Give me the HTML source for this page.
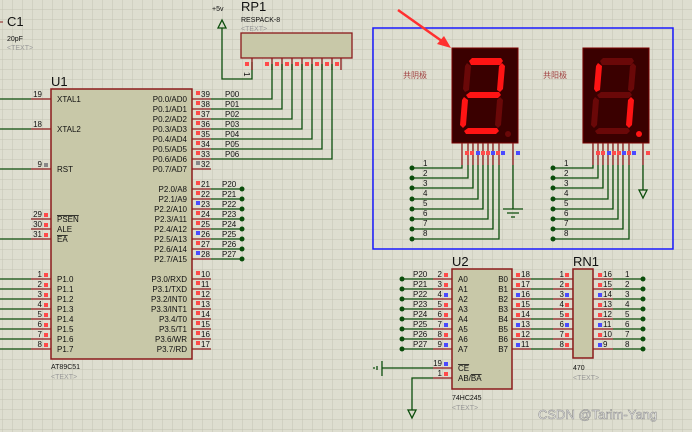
<!DOCTYPE html>
<html><head><meta charset="utf-8"><style>
html,body{margin:0;padding:0;background:#deded0;}
svg{display:block}
text{font-family:"Liberation Sans","Noto Sans CJK SC",sans-serif;font-size:8px;fill:#111}
.g{stroke:#0b4d0b;stroke-width:1.3;fill:none}
.p{stroke:#8b1a1a;stroke-width:1.3;fill:none}
.r{fill:#ff4a4a}.b{fill:#4a4aff}
.t{fill:#999}
.on{fill:#ff1414}.off{fill:#6a0808}
</style></head><body>
<svg width="692" height="432" viewBox="0 0 692 432" xmlns="http://www.w3.org/2000/svg">
<defs><pattern id="gr" width="10" height="10" patternUnits="userSpaceOnUse" x="2" y="9"><path d="M0 0H10M0 0V10" stroke="#c4c4b4" stroke-width="1" fill="none"/></pattern></defs>
<rect width="692" height="432" fill="#deded0"/>
<rect width="692" height="432" fill="url(#gr)"/>

<!-- C1 -->
<path d="M0 22H3" stroke="#8b1a1a"/>
<text x="7" y="26" style="font-size:13px">C1</text>
<text x="7" y="41" style="font-size:7px">20pF</text>
<text x="7" y="50" class="t" style="font-size:7px">&lt;TEXT&gt;</text>

<!-- +5v and RP1 -->
<text x="212" y="11" style="font-size:7px">+5v</text>
<path d="M222 20L218 28H226Z" class="g"/>
<path d="M222 28V79H252V62" class="g"/>
<text x="241" y="11" style="font-size:13px">RP1</text>
<text x="241" y="22" style="font-size:7px">RESPACK-8</text>
<text x="241" y="31" class="t" style="font-size:7px">&lt;TEXT&gt;</text>
<rect x="241" y="33" width="111" height="25" fill="#c8c8a8" stroke="#8b1a1a" stroke-width="1.3"/>
<path d="M252 58V70M272 58V70M282 58V70M292 58V70M302 58V70M312 58V70M322 58V70M332 58V70M341 58V70" class="p"/>
<g class="r"><rect x="245" y="62" width="4" height="4"/><rect x="265" y="62" width="4" height="4"/><rect x="275" y="62" width="4" height="4"/><rect x="285" y="62" width="4" height="4"/><rect x="295" y="62" width="4" height="4"/><rect x="305" y="62" width="4" height="4"/><rect x="315" y="62" width="4" height="4"/><rect x="325" y="62" width="4" height="4"/><rect x="335" y="62" width="4" height="4"/></g>
<g style="font-size:6px"><text x="247" y="75" transform="rotate(90 247 72)">1</text></g>

<!-- U1 -->
<text x="51" y="86" style="font-size:13px">U1</text>
<rect x="51" y="89" width="141" height="270" fill="#c8c8a8" stroke="#8b1a1a" stroke-width="1.5"/>
<text x="51" y="369" style="font-size:7px">AT89C51</text>
<text x="51" y="379" class="t" style="font-size:7px">&lt;TEXT&gt;</text>
<!-- left pins -->
<path d="M31 99H51M31 129H51M31 169H51M31 219H51M31 229H51M31 239H51M31 279H51M31 289H51M31 299H51M31 309H51M31 319H51M31 329H51M31 339H51M31 349H51" class="p"/>
<path d="M0 99H31M0 129H31M0 169H31M0 239H31M0 279H31M0 289H31M0 299H31M0 309H31M0 319H31M0 329H31M0 339H31M0 349H31" class="g"/>
<g text-anchor="end">
<text x="42" y="97">19</text><text x="42" y="127">18</text><text x="42" y="167">9</text><text x="42" y="217">29</text><text x="42" y="227">30</text><text x="42" y="237">31</text>
<text x="42" y="277">1</text><text x="42" y="287">2</text><text x="42" y="297">3</text><text x="42" y="307">4</text><text x="42" y="317">5</text><text x="42" y="327">6</text><text x="42" y="337">7</text><text x="42" y="347">8</text>
</g>
<g class="r"><rect x="44" y="213" width="4" height="4"/><rect x="44" y="223" width="4" height="4"/><rect x="44" y="233" width="4" height="4"/><rect x="44" y="273" width="4" height="4"/><rect x="44" y="283" width="4" height="4"/><rect x="44" y="293" width="4" height="4"/><rect x="44" y="303" width="4" height="4"/><rect x="44" y="313" width="4" height="4"/><rect x="44" y="323" width="4" height="4"/><rect x="44" y="333" width="4" height="4"/><rect x="44" y="343" width="4" height="4"/></g>
<rect x="44" y="163" width="4" height="4" fill="#888"/>
<g>
<text x="57" y="102">XTAL1</text><text x="57" y="132">XTAL2</text><text x="57" y="172">RST</text>
<text x="57" y="222" text-decoration="overline">PSEN</text><text x="57" y="232">ALE</text><text x="57" y="242" text-decoration="overline">EA</text>
<text x="57" y="282">P1.0</text><text x="57" y="292">P1.1</text><text x="57" y="302">P1.2</text><text x="57" y="312">P1.3</text><text x="57" y="322">P1.4</text><text x="57" y="332">P1.5</text><text x="57" y="342">P1.6</text><text x="57" y="352">P1.7</text>
</g>
<!-- right pins -->
<path d="M192 99H211M192 109H211M192 119H211M192 129H211M192 139H211M192 149H211M192 159H211M192 169H211M192 189H211M192 199H211M192 209H211M192 219H211M192 229H211M192 239H211M192 249H211M192 259H211M192 279H211M192 289H211M192 299H211M192 309H211M192 319H211M192 329H211M192 339H211M192 349H211" class="p"/>
<g text-anchor="end">
<text x="187" y="102">P0.0/AD0</text><text x="187" y="112">P0.1/AD1</text><text x="187" y="122">P0.2/AD2</text><text x="187" y="132">P0.3/AD3</text><text x="187" y="142">P0.4/AD4</text><text x="187" y="152">P0.5/AD5</text><text x="187" y="162">P0.6/AD6</text><text x="187" y="172">P0.7/AD7</text>
<text x="187" y="192">P2.0/A8</text><text x="187" y="202">P2.1/A9</text><text x="187" y="212">P2.2/A10</text><text x="187" y="222">P2.3/A11</text><text x="187" y="232">P2.4/A12</text><text x="187" y="242">P2.5/A13</text><text x="187" y="252">P2.6/A14</text><text x="187" y="262">P2.7/A15</text>
<text x="187" y="282">P3.0/RXD</text><text x="187" y="292">P3.1/TXD</text><text x="187" y="302">P3.2/INT0</text><text x="187" y="312">P3.3/INT1</text><text x="187" y="322">P3.4/T0</text><text x="187" y="332">P3.5/T1</text><text x="187" y="342">P3.6/WR</text><text x="187" y="352">P3.7/RD</text>
</g>
<g>
<text x="201" y="97">39</text><text x="201" y="107">38</text><text x="201" y="117">37</text><text x="201" y="127">36</text><text x="201" y="137">35</text><text x="201" y="147">34</text><text x="201" y="157">33</text><text x="201" y="167">32</text>
<text x="201" y="187">21</text><text x="201" y="197">22</text><text x="201" y="207">23</text><text x="201" y="217">24</text><text x="201" y="227">25</text><text x="201" y="237">26</text><text x="201" y="247">27</text><text x="201" y="257">28</text>
<text x="201" y="277">10</text><text x="201" y="287">11</text><text x="201" y="297">12</text><text x="201" y="307">13</text><text x="201" y="317">14</text><text x="201" y="327">15</text><text x="201" y="337">16</text><text x="201" y="347">17</text>
</g>
<g class="r"><rect x="196" y="91" width="4" height="4"/><rect x="196" y="101" width="4" height="4"/><rect x="196" y="111" width="4" height="4"/><rect x="196" y="121" width="4" height="4"/><rect x="196" y="131" width="4" height="4"/><rect x="196" y="141" width="4" height="4"/><rect x="196" y="151" width="4" height="4"/>
<rect x="196" y="181" width="4" height="4"/><rect x="196" y="191" width="4" height="4"/><rect x="196" y="211" width="4" height="4"/><rect x="196" y="221" width="4" height="4"/><rect x="196" y="241" width="4" height="4"/>
<rect x="196" y="271" width="4" height="4"/><rect x="196" y="281" width="4" height="4"/><rect x="196" y="291" width="4" height="4"/><rect x="196" y="301" width="4" height="4"/><rect x="196" y="311" width="4" height="4"/><rect x="196" y="321" width="4" height="4"/><rect x="196" y="331" width="4" height="4"/><rect x="196" y="341" width="4" height="4"/></g>
<rect x="196" y="161" width="4" height="4" fill="#888"/>
<g class="b"><rect x="196" y="201" width="4" height="4"/><rect x="196" y="231" width="4" height="4"/><rect x="196" y="251" width="4" height="4"/></g>
<!-- P0 wires -->
<path d="M211 99H272V64M211 109H282V64M211 119H292V64M211 129H302V64M211 139H312V64M211 149H322V64M211 159H332V64" class="g"/>
<g><text x="225" y="97">P00</text><text x="225" y="107">P01</text><text x="225" y="117">P02</text><text x="225" y="127">P03</text><text x="225" y="137">P04</text><text x="225" y="147">P05</text><text x="225" y="157">P06</text></g>
<!-- P2 wires -->
<path d="M211 189H242M211 199H242M211 209H242M211 219H242M211 229H242M211 239H242M211 249H242M211 259H242" class="g"/>
<g fill="#0b4d0b"><circle cx="242" cy="189" r="2.5"/><circle cx="242" cy="199" r="2.5"/><circle cx="242" cy="209" r="2.5"/><circle cx="242" cy="219" r="2.5"/><circle cx="242" cy="229" r="2.5"/><circle cx="242" cy="239" r="2.5"/><circle cx="242" cy="249" r="2.5"/><circle cx="242" cy="259" r="2.5"/></g>
<g><text x="222" y="187">P20</text><text x="222" y="197">P21</text><text x="222" y="207">P22</text><text x="222" y="217">P23</text><text x="222" y="227">P24</text><text x="222" y="237">P25</text><text x="222" y="247">P26</text><text x="222" y="257">P27</text></g>

<!-- blue box -->
<rect x="373" y="28" width="300" height="221" fill="none" stroke="#1a1aff" stroke-width="1.5"/>
<text x="403" y="78" style="fill:#a04040">共阴极</text>
<text x="543" y="78" style="fill:#a04040">共阳极</text>

<!-- display 1 -->
<g transform="translate(452,48)">
<rect x="0" y="0" width="66" height="95" fill="#3a0000" stroke="#7a0000"/>
<polygon class="on" points="20,10 49,10 51,13 48,17 19,17 17,13"/>
<polygon class="off" points="15,15 19,18 17,42 13,44 11,41 13,18"/>
<polygon class="on" points="50,15 53,18 51,41 48,44 45,42 47,18"/>
<polygon class="on" points="18,44 47,44 49,47 46,50 16,50 14,47"/>
<polygon class="on" points="12,49 16,52 14,77 11,80 8,77 10,52"/>
<polygon class="off" points="48,49 51,52 49,77 46,80 43,77 45,52"/>
<polygon class="on" points="16,80 45,80 47,83 44,86 14,86 12,83"/>
<circle class="off" cx="56" cy="86" r="3"/>
</g>
<!-- display 2 -->
<g transform="translate(583,48)">
<rect x="0" y="0" width="66" height="95" fill="#3a0000" stroke="#7a0000"/>
<polygon class="off" points="20,10 49,10 51,13 48,17 19,17 17,13"/>
<polygon class="on" points="15,15 19,18 17,42 13,44 11,41 13,18"/>
<polygon class="off" points="50,15 53,18 51,41 48,44 45,42 47,18"/>
<polygon class="off" points="18,44 47,44 49,47 46,50 16,50 14,47"/>
<polygon class="off" points="12,49 16,52 14,77 11,80 8,77 10,52"/>
<polygon class="on" points="48,49 51,52 49,77 46,80 43,77 45,52"/>
<polygon class="off" points="16,80 45,80 47,83 44,86 14,86 12,83"/>
<circle class="on" cx="56" cy="86" r="3"/>
</g>
<!-- display1 pins -->
<path d="M462 143V165M468 143V165M473 143V165M478 143V165M483 143V165M488 143V165M493 143V165M499 143V165M513 143V165" class="p"/>
<rect x="465" y="151" width="4" height="4" class="r"/><rect x="470" y="151" width="4" height="4" class="r"/><rect x="476" y="151" width="4" height="4" class="b"/><rect x="481" y="151" width="4" height="4" class="r"/><rect x="486" y="151" width="4" height="4" class="r"/><rect x="491" y="151" width="4" height="4" class="b"/><rect x="496" y="151" width="4" height="4" class="r"/><rect x="501" y="151" width="4" height="4" class="b"/><rect x="516" y="151" width="4" height="4" class="b"/>
<path d="M462 165V168H412M468 165V178H412M473 165V188H412M478 165V199H412M483 165V209H412M488 165V219H412M493 165V229H412M499 165V239H412" class="g"/>
<path d="M513 165V209M503 209H523M507 213H519M511 217H515" class="g"/>
<!-- display2 pins -->
<path d="M593 143V165M598 143V165M603 143V165M608 143V165M613 143V165M618 143V165M623 143V165M629 143V165M643 143V165" class="p"/>
<rect x="596" y="151" width="4" height="4" class="r"/><rect x="601" y="151" width="4" height="4" class="r"/><rect x="607" y="151" width="4" height="4" class="b"/><rect x="612" y="151" width="4" height="4" class="r"/><rect x="617" y="151" width="4" height="4" class="r"/><rect x="622" y="151" width="4" height="4" class="b"/><rect x="627" y="151" width="4" height="4" class="r"/><rect x="632" y="151" width="4" height="4" class="b"/><rect x="646" y="151" width="4" height="4" class="r"/>
<path d="M593 165V168H553M598 165V178H553M603 165V188H553M608 165V199H553M613 165V209H553M618 165V219H553M623 165V229H553M629 165V239H553" class="g"/>
<path d="M643 165V190M639 190H647L643 198Z" class="g"/>
<g fill="#0b4d0b"><circle cx="412" cy="168" r="2.5"/><circle cx="412" cy="178" r="2.5"/><circle cx="412" cy="188" r="2.5"/><circle cx="412" cy="199" r="2.5"/><circle cx="412" cy="209" r="2.5"/><circle cx="412" cy="219" r="2.5"/><circle cx="412" cy="229" r="2.5"/><circle cx="412" cy="239" r="2.5"/>
<circle cx="553" cy="168" r="2.5"/><circle cx="553" cy="178" r="2.5"/><circle cx="553" cy="188" r="2.5"/><circle cx="553" cy="199" r="2.5"/><circle cx="553" cy="209" r="2.5"/><circle cx="553" cy="219" r="2.5"/><circle cx="553" cy="229" r="2.5"/><circle cx="553" cy="239" r="2.5"/></g>
<g><text x="423" y="166">1</text><text x="423" y="176">2</text><text x="423" y="186">3</text><text x="423" y="196">4</text><text x="423" y="206">5</text><text x="423" y="216">6</text><text x="423" y="226">7</text><text x="423" y="236">8</text>
<text x="564" y="166">1</text><text x="564" y="176">2</text><text x="564" y="186">3</text><text x="564" y="196">4</text><text x="564" y="206">5</text><text x="564" y="216">6</text><text x="564" y="226">7</text><text x="564" y="236">8</text></g>
<!-- red arrow -->
<path d="M398 10L446 44" stroke="#ff3030" stroke-width="2.5"/>
<path d="M451 48L437 44L444 36Z" fill="#ff3030"/>

<!-- U2 -->
<text x="452" y="266" style="font-size:13px">U2</text>
<rect x="452" y="269" width="60" height="120" fill="#c8c8a8" stroke="#8b1a1a" stroke-width="1.5"/>
<text x="452" y="400" style="font-size:7px">74HC245</text>
<text x="452" y="410" class="t" style="font-size:7px">&lt;TEXT&gt;</text>
<path d="M433 279H452M433 289H452M433 299H452M433 309H452M433 319H452M433 329H452M433 339H452M433 349H452M433 368H452M433 378H452" class="p"/>
<path d="M402 279H433M402 289H433M402 299H433M402 309H433M402 319H433M402 329H433M402 339H433M402 349H433" class="g"/>
<g fill="#0b4d0b"><circle cx="402" cy="279" r="2.5"/><circle cx="402" cy="289" r="2.5"/><circle cx="402" cy="299" r="2.5"/><circle cx="402" cy="309" r="2.5"/><circle cx="402" cy="319" r="2.5"/><circle cx="402" cy="329" r="2.5"/><circle cx="402" cy="339" r="2.5"/><circle cx="402" cy="349" r="2.5"/></g>
<g><text x="413" y="277">P20</text><text x="413" y="287">P21</text><text x="413" y="297">P22</text><text x="413" y="307">P23</text><text x="413" y="317">P24</text><text x="413" y="327">P25</text><text x="413" y="337">P26</text><text x="413" y="347">P27</text></g>
<g text-anchor="end"><text x="442" y="277">2</text><text x="442" y="287">3</text><text x="442" y="297">4</text><text x="442" y="307">5</text><text x="442" y="317">6</text><text x="442" y="327">7</text><text x="442" y="337">8</text><text x="442" y="347">9</text><text x="442" y="366">19</text><text x="442" y="376">1</text></g>
<rect x="444" y="273" width="4" height="4" class="r"/><rect x="444" y="283" width="4" height="4" class="r"/><rect x="444" y="293" width="4" height="4" class="b"/><rect x="444" y="303" width="4" height="4" class="r"/><rect x="444" y="313" width="4" height="4" class="r"/><rect x="444" y="323" width="4" height="4" class="b"/><rect x="444" y="333" width="4" height="4" class="r"/><rect x="444" y="343" width="4" height="4" class="b"/><rect x="444" y="362" width="4" height="4" class="b"/><rect x="444" y="372" width="4" height="4" class="r"/>
<g><text x="458" y="282">A0</text><text x="458" y="292">A1</text><text x="458" y="302">A2</text><text x="458" y="312">A3</text><text x="458" y="322">A4</text><text x="458" y="332">A5</text><text x="458" y="342">A6</text><text x="458" y="352">A7</text>
<text x="458" y="371" text-decoration="overline">CE</text><text x="458" y="381">AB/<tspan text-decoration="overline">BA</tspan></text></g>
<g text-anchor="end"><text x="508" y="282">B0</text><text x="508" y="292">B1</text><text x="508" y="302">B2</text><text x="508" y="312">B3</text><text x="508" y="322">B4</text><text x="508" y="332">B5</text><text x="508" y="342">B6</text><text x="508" y="352">B7</text></g>
<path d="M382 368H433M382 361V376M377 366V370M373 368H375" class="g"/>
<path d="M433 378H412V410M408 410H416L412 418Z" class="g"/>
<!-- B side -->
<path d="M512 279H531M512 289H531M512 299H531M512 309H531M512 319H531M512 329H531M512 339H531M512 349H531" class="p"/>
<path d="M531 279H553M531 289H553M531 299H553M531 309H553M531 319H553M531 329H553M531 339H553M531 349H553" class="g"/>
<path d="M553 279H573M553 289H573M553 299H573M553 309H573M553 319H573M553 329H573M553 339H573M553 349H573" class="p"/>
<g><text x="521" y="277">18</text><text x="521" y="287">17</text><text x="521" y="297">16</text><text x="521" y="307">15</text><text x="521" y="317">14</text><text x="521" y="327">13</text><text x="521" y="337">12</text><text x="521" y="347">11</text></g>
<rect x="516" y="273" width="4" height="4" class="r"/><rect x="516" y="283" width="4" height="4" class="r"/><rect x="516" y="293" width="4" height="4" class="b"/><rect x="516" y="303" width="4" height="4" class="r"/><rect x="516" y="313" width="4" height="4" class="r"/><rect x="516" y="323" width="4" height="4" class="b"/><rect x="516" y="333" width="4" height="4" class="r"/><rect x="516" y="343" width="4" height="4" class="b"/>
<!-- RN1 -->
<text x="573" y="266" style="font-size:13px">RN1</text>
<rect x="573" y="269" width="20" height="89" fill="#c8c8a8" stroke="#8b1a1a" stroke-width="1.5"/>
<text x="573" y="370" style="font-size:7px">470</text>
<text x="573" y="380" class="t" style="font-size:7px">&lt;TEXT&gt;</text>
<g text-anchor="end"><text x="564" y="277">1</text><text x="564" y="287">2</text><text x="564" y="297">3</text><text x="564" y="307">4</text><text x="564" y="317">5</text><text x="564" y="327">6</text><text x="564" y="337">7</text><text x="564" y="347">8</text></g>
<rect x="565" y="273" width="4" height="4" class="r"/><rect x="565" y="283" width="4" height="4" class="r"/><rect x="565" y="293" width="4" height="4" class="b"/><rect x="565" y="303" width="4" height="4" class="r"/><rect x="565" y="313" width="4" height="4" class="r"/><rect x="565" y="323" width="4" height="4" class="b"/><rect x="565" y="333" width="4" height="4" class="r"/><rect x="565" y="343" width="4" height="4" class="r"/>
<path d="M593 279H613M593 289H613M593 299H613M593 309H613M593 319H613M593 329H613M593 339H613M593 349H613" class="p"/>
<path d="M613 279H643M613 289H643M613 299H643M613 309H643M613 319H643M613 329H643M613 339H643M613 349H643" class="g"/>
<g fill="#0b4d0b"><circle cx="643" cy="279" r="2.5"/><circle cx="643" cy="289" r="2.5"/><circle cx="643" cy="299" r="2.5"/><circle cx="643" cy="309" r="2.5"/><circle cx="643" cy="319" r="2.5"/><circle cx="643" cy="329" r="2.5"/><circle cx="643" cy="339" r="2.5"/><circle cx="643" cy="349" r="2.5"/></g>
<g><text x="603" y="277">16</text><text x="603" y="287">15</text><text x="603" y="297">14</text><text x="603" y="307">13</text><text x="603" y="317">12</text><text x="603" y="327">11</text><text x="603" y="337">10</text><text x="603" y="347">9</text></g>
<rect x="598" y="273" width="4" height="4" class="r"/><rect x="598" y="283" width="4" height="4" class="r"/><rect x="598" y="293" width="4" height="4" class="b"/><rect x="598" y="303" width="4" height="4" class="r"/><rect x="598" y="313" width="4" height="4" class="r"/><rect x="598" y="323" width="4" height="4" class="b"/><rect x="598" y="333" width="4" height="4" class="r"/><rect x="598" y="343" width="4" height="4" class="b"/>
<g><text x="625" y="277">1</text><text x="625" y="287">2</text><text x="625" y="297">3</text><text x="625" y="307">4</text><text x="625" y="317">5</text><text x="625" y="327">6</text><text x="625" y="337">7</text><text x="625" y="347">8</text></g>

<!-- watermark -->
<text x="538" y="419" style="font-size:13px;fill:#f4f4f4;stroke:#8a8a8a;stroke-width:0.5">CSDN @Tarim-Yang</text>
</svg>
</body></html>
